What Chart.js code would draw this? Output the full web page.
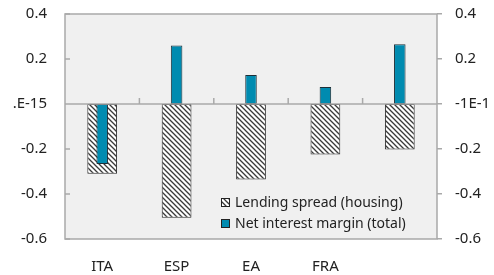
<!DOCTYPE html>
<html>
<head>
<meta charset="utf-8">
<script src="https://cdn.jsdelivr.net/npm/chart.js@4.4.1/dist/chart.umd.min.js"></script>
<style>
  html, body { margin: 0; padding: 0; background: #fff; }
  #wrap { width: 494px; height: 275px; }
</style>
</head>
<body>
<div id="wrap"><canvas id="chart" width="494" height="275"></canvas></div>
<script>
const categories = ["ITA", "ESP", "EA", "FRA", ""];
const lendingSpread = [-0.31, -0.505, -0.335, -0.224, -0.202];
const netInterestMargin = [-0.267, 0.26, 0.129, 0.076, 0.266];
const seriesNames = ["Lending spread (housing)", "Net interest margin (total)"];
// tick labels from bottom (-0.6) to top (0.4)
const leftTickLabels = ["-0.6", "-0.4", "-0.2", ".E-15", "0.2", "0.4"];
const rightTickLabels = ["-0.6", "-0.4", "-0.2", "-1E-1", "0.2", "0.4"];

const TEAL = "#008bb0";
const GRID = "#a9a9a9";
const FONT = { family: "'Noto Sans', sans-serif", size: 15 };

function hatch(){
  const c = document.createElement("canvas");
  c.width = 5; c.height = 5;
  const g = c.getContext("2d");
  g.fillStyle = "#fff";
  g.fillRect(0, 0, 5, 5);
  g.strokeStyle = "#3a3a3a";
  g.lineWidth = 1.3;
  g.beginPath();
  g.moveTo(-1, -1); g.lineTo(6, 6);
  g.moveTo(-1, 4); g.lineTo(1, 6);
  g.moveTo(4, -1); g.lineTo(6, 1);
  g.stroke();
  return g.createPattern(c, "repeat");
}
const hatchFill = hatch();

const plotFrame = {
  id: "plotFrame",
  beforeDraw(chart){
    const { ctx, chartArea: a } = chart;
    ctx.save();
    ctx.fillStyle = "#f0f0f0";
    ctx.fillRect(a.left, a.top, a.right - a.left, a.bottom - a.top);
    ctx.restore();
  },
  afterDatasetsDraw(chart){
    const { ctx, chartArea: a, scales } = chart;
    const y = scales.y, x = scales.x;
    ctx.save();
    ctx.strokeStyle = GRID;
    ctx.lineWidth = 1.5;
    ctx.strokeRect(a.left, a.top, a.right - a.left, a.bottom - a.top);
    // zero line
    const y0 = y.getPixelForValue(0);
    ctx.beginPath();
    ctx.moveTo(a.left, y0); ctx.lineTo(a.right, y0);
    // category ticks on the zero line
    for (let i = 1; i < categories.length; i++){
      const xx = (x.getPixelForTick(i - 1) + x.getPixelForTick(i)) / 2;
      ctx.moveTo(xx, y0); ctx.lineTo(xx, y0 - 6);
    }
    // left axis ticks, inside
    y.ticks.forEach(t => {
      const yy = y.getPixelForValue(t.value);
      ctx.moveTo(a.left, yy); ctx.lineTo(a.left + 5, yy);
    });
    ctx.stroke();
    ctx.restore();
  },
  afterDraw(chart){
    const { ctx, chartArea: a } = chart;
    const bx = a.left + 156, tx = a.left + 170;
    const rows = [a.top + 188.5, a.top + 209.5];
    const fills = [hatchFill, TEAL];
    ctx.save();
    ctx.font = "14px 'Noto Sans', sans-serif";
    ctx.textBaseline = "middle";
    rows.forEach((ry, i) => {
      ctx.fillStyle = fills[i];
      ctx.fillRect(bx, ry - 4.5, 9, 9);
      ctx.strokeStyle = "#222";
      ctx.lineWidth = 1;
      ctx.strokeRect(bx + 0.5, ry - 4, 8, 8);
      ctx.fillStyle = "#222";
      ctx.fillText(seriesNames[i], tx, ry + 1);
    });
    ctx.restore();
  }
};

function fixY(width){
  return function(s){
    s.width = width;
    s.paddingTop = 0;
    s.paddingBottom = 0;
  };
}

new Chart(document.getElementById("chart"), {
  type: "bar",
  data: {
    labels: categories,
    datasets: [
      {
        label: seriesNames[0],
        data: lendingSpread,
        backgroundColor: hatchFill,
        borderColor: "#2a2a2a",
        borderWidth: 1,
        borderSkipped: false,
        barPercentage: 0.4,
        categoryPercentage: 1.0,
        grouped: false,
        order: 2,
        yAxisID: "y"
      },
      {
        label: seriesNames[1],
        data: netInterestMargin,
        backgroundColor: TEAL,
        borderColor: "#1d2f38",
        borderWidth: 1,
        borderSkipped: false,
        barPercentage: 0.155,
        categoryPercentage: 1.0,
        grouped: false,
        order: 1,
        yAxisID: "y"
      }
    ]
  },
  options: {
    responsive: false,
    devicePixelRatio: 1,
    animation: false,
    layout: { padding: { top: 14, left: 0, right: 0, bottom: 0 } },
    plugins: { legend: { display: false }, tooltip: { enabled: false } },
    scales: {
      x: {
        grid: { display: false },
        border: { display: false },
        ticks: { font: FONT, color: "#222", padding: 11 },
        afterFit(s){ s.height = 36; }
      },
      y: {
        position: "left",
        min: -0.6, max: 0.4,
        grid: { display: false, drawTicks: false },
        border: { display: false },
        ticks: {
          stepSize: 0.2, font: FONT, color: "#222", padding: 18,
          callback: (v, i) => leftTickLabels[i]
        },
        afterFit: fixY(65)
      },
      y2: {
        position: "right",
        min: -0.6, max: 0.4,
        grid: { drawOnChartArea: false, tickLength: 5, color: GRID, lineWidth: 1.5 },
        border: { display: false },
        ticks: {
          stepSize: 0.2, font: FONT, color: "#222", padding: 13,
          callback: (v, i) => rightTickLabels[i]
        },
        afterFit: fixY(57)
      }
    }
  },
  plugins: [plotFrame]
});
</script>
</body>
</html>
